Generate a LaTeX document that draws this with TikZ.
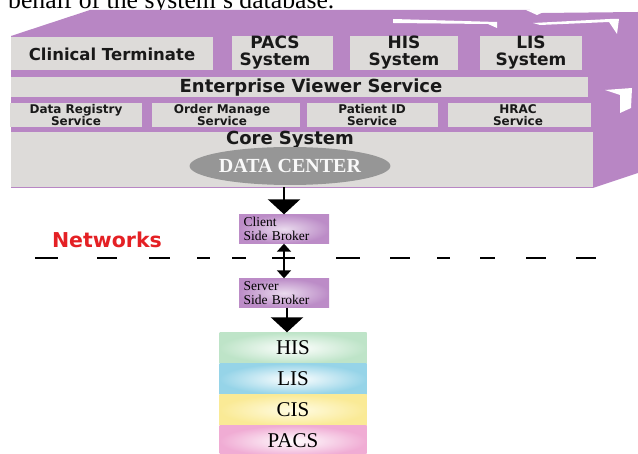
\documentclass[tikz,border=0pt]{standalone}
\usepackage{fontspec}
\setmainfont{Liberation Serif}
\newfontfamily\lbl{DejaVu Sans}
\usetikzlibrary{arrows.meta,shapes.geometric}
\definecolor{lav}{RGB}{184,134,196}
\definecolor{panel}{RGB}{221,219,217}
\definecolor{dcgray}{RGB}{150,150,150}
\definecolor{netred}{RGB}{228,32,36}
\tikzset{
  panelbox/.style={fill=panel, draw=none},
  lab/.style={font=\lbl\bfseries\fontsize{#1}{#1}\selectfont, align=center, inner sep=0pt, text=black!90},
  brokerbox/.style={inner color=lav!30, outer color=lav!95, draw=none, minimum width=90pt, minimum height=29pt, align=left, text width=81pt, font=\fontsize{13.5}{14}\selectfont, inner sep=0pt},
  stackbox/.style={draw=none, minimum width=147pt, minimum height=31pt, font=\fontsize{21}{21}\selectfont, inner sep=0pt},
  bigarrow/.style={line width=2.6pt, -{Triangle[width=32pt,length=15pt]}},
  dblarrow/.style={line width=1.6pt, {Triangle[width=14pt,length=8pt]}-{Triangle[width=14pt,length=8pt]}},
  netdash/.style={line width=2.6pt}
}
\begin{document}
\begin{tikzpicture}[x=1pt,y=-1pt]
\useasboundingbox (0,0) rectangle (638,454);
% partly cut caption line at top
\node[anchor=base west, inner sep=0pt, font=\fontsize{25.7}{26}\selectfont] (cap) at (8,9) {behalf of the system's database.};
% purple 3D body
\fill[lav] (11,188) -- (11,36) -- (90,10) -- (530,10) -- (540,13) -- (638,12) -- (638,173) -- (593,188) -- cycle;
% white slivers
\fill[white] (393,19) -- (497,22) -- (497,28) -- (488,24) -- (393,23) -- cycle;
\fill[white] (533,23) -- (610,19) -- (619,19) -- (617,34) -- (609,22) -- (540,25) -- cycle;
\fill[white] (526,10) -- (548,10) -- (537,15) -- cycle;
\fill[white] (605,90) -- (632,88) -- (631,108) -- (620,113) -- (620,95) -- cycle;
% top row panels
\fill[panelbox] (11,37) rectangle (213,70);
\fill[panelbox] (232,36) rectangle (333,70);
\fill[panelbox] (350,36) rectangle (458,70);
\fill[panelbox] (480,36) rectangle (582,70);
% enterprise
\fill[panelbox] (11,77) rectangle (588,97);
% services
\fill[panelbox] (10,103) rectangle (142,127);
\fill[panelbox] (152,103) rectangle (300,127);
\fill[panelbox] (307,103) rectangle (438,127);
\fill[panelbox] (448,103) rectangle (591,127);
% core
\fill[panelbox] (11,132) rectangle (593,187);
% labels
\node[lab=16.5] (ct) at (112,54) {Clinical Terminate};
\node[lab=17] (pacs) at (275,53) {PACS\\System};
\node[lab=17] (his) at (404,53) {HIS\\System};
\node[lab=17] (lis) at (531,53) {LIS\\System};
\node[lab=18] (evs) at (311,88) {Enterprise Viewer Service};
\node[lab=12] (drs) at (76,115) {Data Registry\\Service};
\node[lab=12] (oms) at (222,115) {Order Manage\\Service};
\node[lab=12] (pis) at (372,115) {Patient ID\\Service};
\node[lab=12] (hrs) at (518,115) {HRAC\\Service};
\node[lab=18] (core) at (290,140) {Core System};
% data center
\node[ellipse, fill=dcgray, minimum width=160pt, minimum height=38pt, inner sep=0pt, text=white!95!gray, font=\bfseries\fontsize{20}{20}\selectfont] (dc) at (290,166) {DATA CENTER};
% brokers
\node[brokerbox] (client) at (284,229) {Client\\Side Broker};
\node[brokerbox] (server) at (284,293) {Server\\Side Broker};
% stack
\node[stackbox, inner color=white, outer color={rgb,255:red,190;green,228;blue,200}] (shis) at (293,348) {HIS};
\node[stackbox, inner color=white, outer color={rgb,255:red,150;green,212;blue,232}] (slis) at (293,379) {LIS};
\node[stackbox, inner color={rgb,255:red,255;green,252;blue,228}, outer color={rgb,255:red,250;green,234;blue,150}] (scis) at (293,410) {CIS};
\node[stackbox, inner color=white, outer color={rgb,255:red,240;green,172;blue,212}] (spacs) at (293,441) {PACS};
% networks
\node[font=\lbl\bfseries\fontsize{20.5}{20.5}\selectfont, text=netred, inner sep=0pt] (net) at (107,240) {Networks};
\foreach \a/\b in {35/58, 97/117, 149/170, 197/210, 232/246, 272/295, 336/360, 390/410, 437/450, 480/495, 526/546, 576/596}
  \draw[netdash] (\a,258) -- (\b,258);
% arrows
\draw[bigarrow] (dc.south -| client.north) ++(0,2) -- (client.north);
\draw[dblarrow] (client.south) -- (server.north);
\draw[bigarrow] ([xshift=3pt]server.south) -- ([xshift=3pt]server.south |- shis.north);
\end{tikzpicture}
\end{document}
